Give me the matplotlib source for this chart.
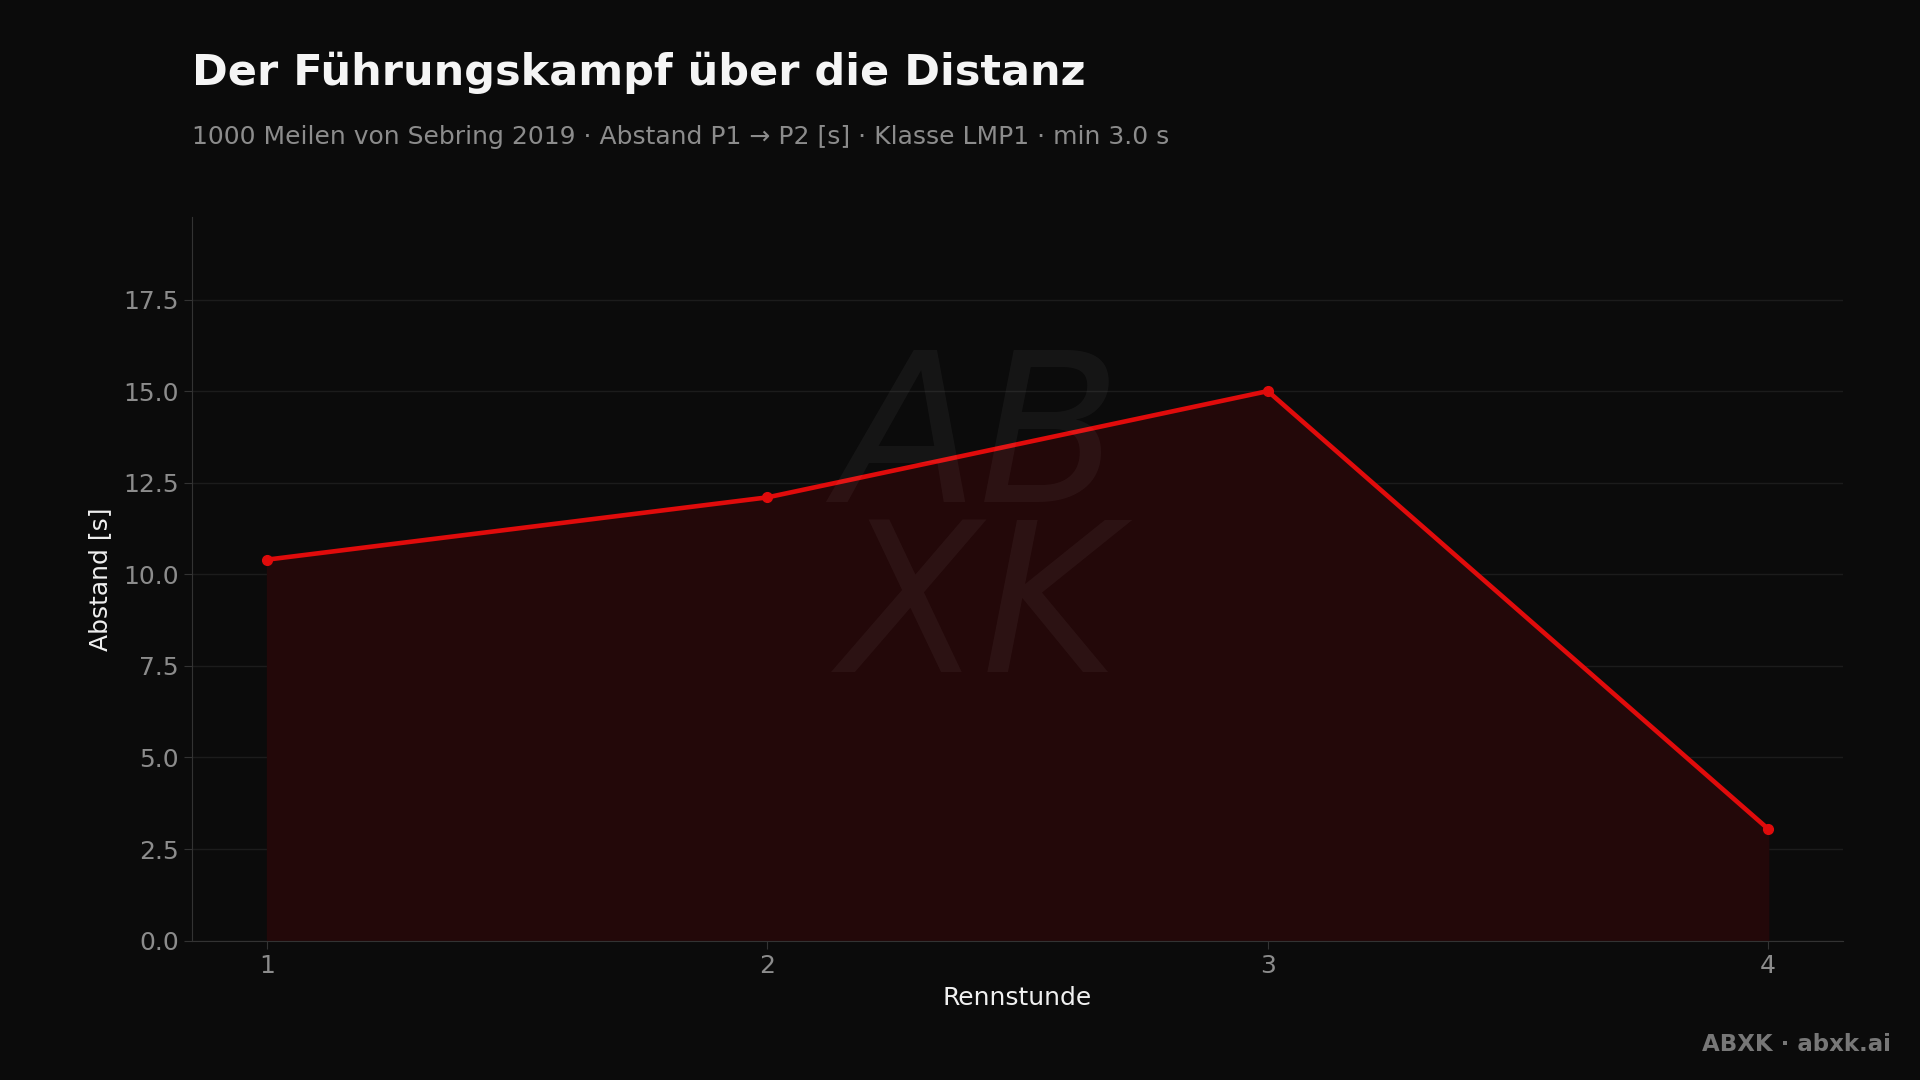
import numpy as np
import matplotlib.pyplot as plt

stunden = [1, 2, 3, 4]
abstand = [10.4, 12.1, 15.0, 3.05]
yticks = [0.0, 2.5, 5.0, 7.5, 10.0, 12.5, 15.0, 17.5]

titel = 'Der Führungskampf über die Distanz'
untertitel = '1000 Meilen von Sebring 2019 · Abstand P1 → P2 [s] · Klasse LMP1 · min 3.0 s'

bg = '#0b0b0b'
rot = '#e00b0b'

fig = plt.figure(figsize=(19.2, 10.8), dpi=100, facecolor=bg)
ax = fig.add_axes([0.100, 0.129, 0.860, 0.670])
ax.set_facecolor(bg)

# Watermark
fig.text(0.51, 0.51, 'AB\nXK', fontsize=150, style='italic', color='#ffffff',
         alpha=0.045, ha='center', va='center', linespacing=0.8, zorder=0)

ax.fill_between(stunden, abstand, 0, color='#230809', zorder=1)
ax.plot(stunden, abstand, color=rot, linewidth=3.3, marker='o', markersize=7, zorder=3)

ax.set_xlim(0.85, 4.15)
ax.set_ylim(0, 19.75)
ax.set_xticks(stunden)
ax.set_yticks(yticks)
ax.set_yticklabels([f'{v:.1f}' for v in yticks])
ax.grid(axis='y', color='#ffffff', alpha=0.07, linewidth=1)
ax.set_axisbelow(True)

for s in ['top', 'right']:
    ax.spines[s].set_visible(False)
for s in ['left', 'bottom']:
    ax.spines[s].set_color('#333333')
ax.tick_params(colors='#333333', labelcolor='#8c8c8c', labelsize=18, length=6)

ax.set_xlabel('Rennstunde', color='#f0f0f0', fontsize=18, labelpad=6)
ax.set_ylabel('Abstand [s]', color='#f0f0f0', fontsize=18, labelpad=8)

fig.text(0.100, 0.933, titel, fontsize=31, fontweight='bold', color='#f5f5f5', va='center')
fig.text(0.100, 0.873, untertitel, fontsize=18, color='#8c8c8c', va='center')
fig.text(0.985, 0.033, 'ABXK · abxk.ai', fontsize=16.5, fontweight='bold', color='#777777',
         ha='right', va='center')

fig.savefig('out.png', dpi=100, facecolor=bg)
